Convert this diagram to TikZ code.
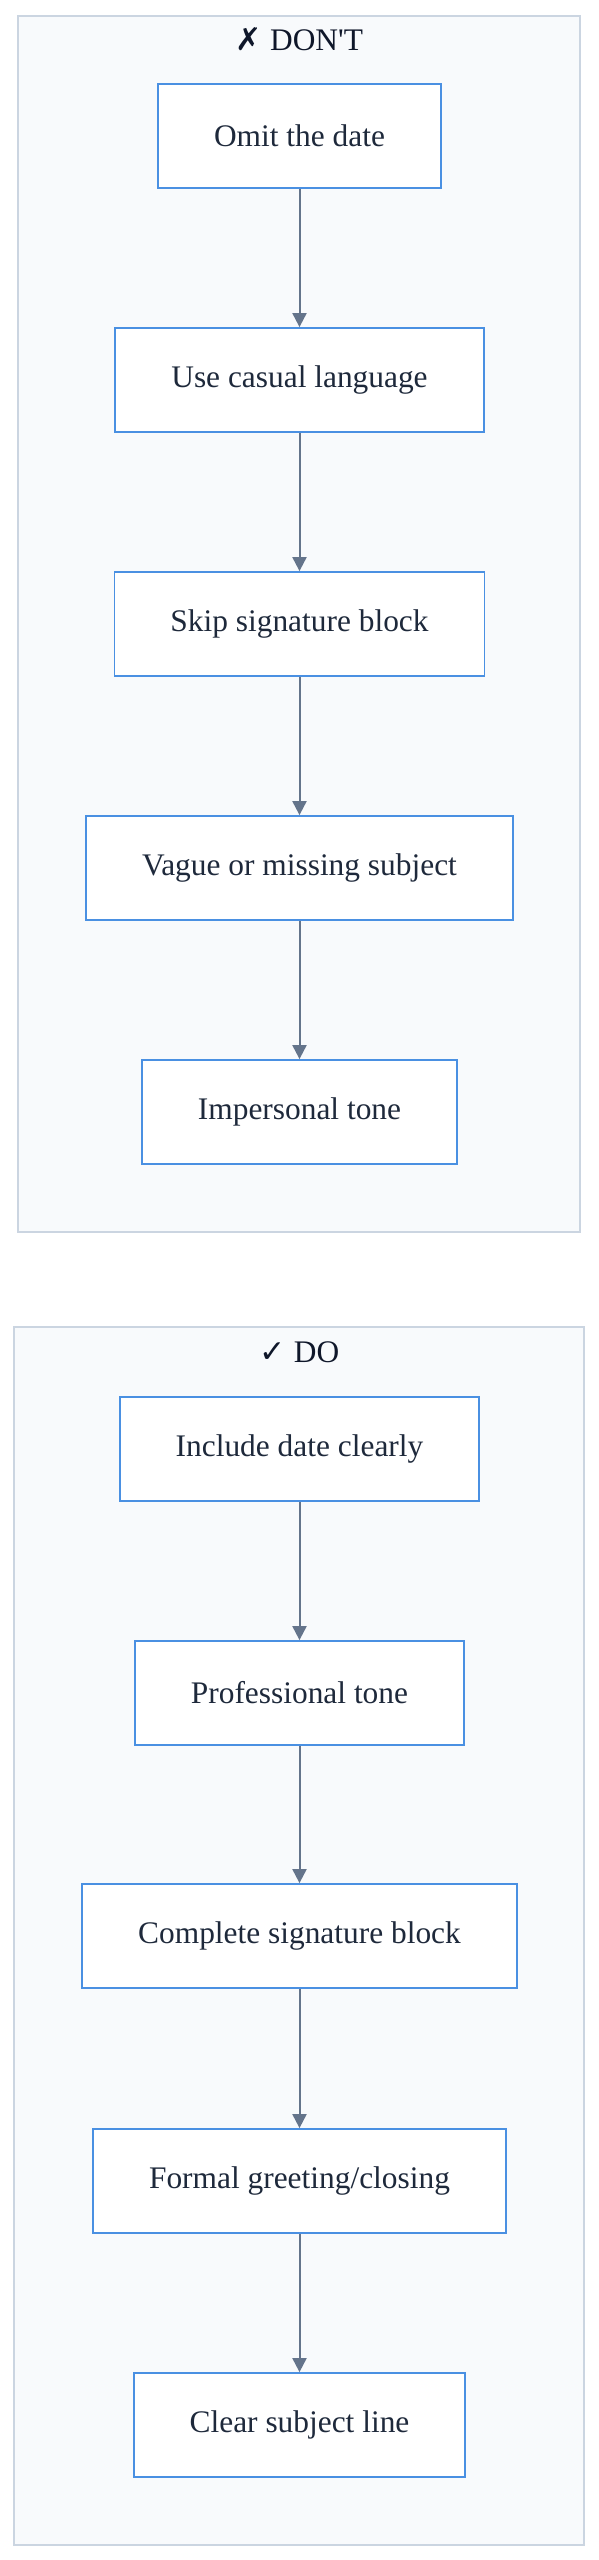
\documentclass[tikz,border=0pt]{standalone}
\usepackage{fontspec}
\setmainfont{Liberation Serif}
\newfontfamily\titlefont{Liberation Serif}
\newfontfamily\symfont{DejaVu Sans}
\usetikzlibrary{arrows.meta}

\definecolor{clusterfill}{HTML}{F8FAFC}
\definecolor{clusterline}{HTML}{CBD5E1}
\definecolor{boxline}{HTML}{4A90E2}
\definecolor{edgeline}{HTML}{64748B}
\definecolor{textcol}{HTML}{1E293B}
\definecolor{titlecol}{HTML}{0F172A}

\tikzset{
    cluster/.style={draw=clusterline, fill=clusterfill, line width=1pt},
    title/.style={text=titlecol, font=\titlefont\fontsize{15.7pt}{19pt}\selectfont},
    item/.style={draw=boxline, fill=white, line width=0.9pt, text=textcol,
        font=\fontsize{15.7pt}{19pt}\selectfont, inner xsep=28pt,
        minimum height=52pt},
    edge/.style={draw=edgeline, line width=1pt,
        -{Triangle[width=7pt,length=7pt]}}
}

\begin{document}
\begin{tikzpicture}[x=0.5pt, y=-0.5pt]
        \useasboundingbox (0, 0) rectangle (599, 2560);

        % clusters
        \draw[cluster] (18, 16) rectangle (580, 1232);
        \draw[cluster] (14, 1327) rectangle (584, 2545);
        \node[title] at (299.5, 39)   (tdont) {{\symfont ✗} DON'T};
        \node[title] at (299.5, 1352) (tdo)   {{\symfont ✓} DO};

        % place nodes
        \node[item] at (299.5, 136)  (d0) {Omit the date};
        \node[item] at (299.5, 380)  (d1) {Use casual language};
        \node[item] at (299.5, 624)  (d2) {Skip signature block};
        \node[item] at (299.5, 868)  (d3) {Vague or missing subject};
        \node[item] at (299.5, 1112) (d4) {Impersonal tone};

        \node[item] at (299.5, 1449) (g0) {Include date clearly};
        \node[item] at (299.5, 1693) (g1) {Professional tone};
        \node[item] at (299.5, 1936) (g2) {Complete signature block};
        \node[item] at (299.5, 2181) (g3) {Formal greeting/closing};
        \node[item] at (299.5, 2425) (g4) {Clear subject line};

        % draw edges
        \draw[edge] (d0) -- (d1);
        \draw[edge] (d1) -- (d2);
        \draw[edge] (d2) -- (d3);
        \draw[edge] (d3) -- (d4);

        \draw[edge] (g0) -- (g1);
        \draw[edge] (g1) -- (g2);
        \draw[edge] (g2) -- (g3);
        \draw[edge] (g3) -- (g4);
    \end{tikzpicture}
\end{document}
